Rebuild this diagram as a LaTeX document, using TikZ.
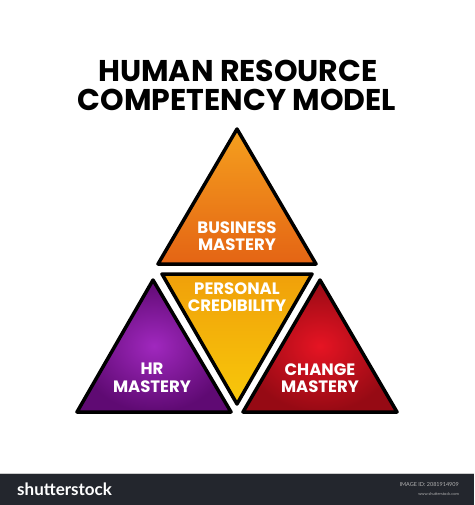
\documentclass[tikz,border=0pt]{standalone}
\usepackage{fontspec}
\newfontfamily\pop{Poppins}
\newfontfamily\lato{Lato}
\definecolor{barc}{RGB}{35,38,45}
\definecolor{purin}{RGB}{160,40,190}
\definecolor{purout}{RGB}{95,10,115}
\definecolor{redin}{RGB}{230,20,35}
\definecolor{redout}{RGB}{150,10,20}
\definecolor{orgtop}{RGB}{245,160,30}
\definecolor{orgbot}{RGB}{228,100,20}
\definecolor{yeltop}{RGB}{240,160,10}
\definecolor{yelbot}{RGB}{248,200,10}
\begin{document}
\begin{tikzpicture}[x=1pt,y=-1pt,
  tri/.style={draw=black,line width=3.5pt,line join=round},
  lbl/.style={text=white,font=\pop\bfseries\fontsize{16.5}{17.5}\selectfont,align=center,inner sep=0pt},
  ttl/.style={text=black,font=\pop\bfseries\fontsize{30}{32}\selectfont,inner sep=0pt}
]
\useasboundingbox (0,0) rectangle (474,505);
\fill[white] (0,0) rectangle (474,505);
% coordinates
\coordinate (tA) at (237,129);
\coordinate (tL) at (158,264);
\coordinate (tR) at (316,264);
\coordinate (mL) at (162,274);
\coordinate (mR) at (312,274);
\coordinate (mB) at (237,404);
\coordinate (lA) at (153,280);
\coordinate (lL) at (77,412);
\coordinate (lR) at (231,412);
\coordinate (rA) at (320,280);
\coordinate (rL) at (243,412);
\coordinate (rR) at (397,412);
% triangles
\shade[top color=orgtop, bottom color=orgbot] (tA) -- (tL) -- (tR) -- cycle;
\draw[tri] (tA) -- (tL) -- (tR) -- cycle;
\shade[top color=yeltop, bottom color=yelbot] (mL) -- (mR) -- (mB) -- cycle;
\draw[tri] (mL) -- (mR) -- (mB) -- cycle;
\shade[inner color=purin, outer color=purout] (lA) -- (lL) -- (lR) -- cycle;
\draw[tri] (lA) -- (lL) -- (lR) -- cycle;
\shade[inner color=redin, outer color=redout] (rA) -- (rL) -- (rR) -- cycle;
\draw[tri] (rA) -- (rL) -- (rR) -- cycle;
% title
\node[ttl] (t1) at (238,71) {HUMAN RESOURCE};
\node[ttl] (t2) at (237,100) {COMPETENCY MODEL};
% labels
\node[lbl] (bus) at (237,236) {BUSINESS\\MASTERY};
\node[lbl] (per) at (237,297) {PERSONAL\\CREDIBILITY};
\node[lbl] (hr) at (152,378) {HR\\MASTERY};
\node[lbl] (chg) at (320,378) {CHANGE\\MASTERY};
% bottom bar
\fill[barc] (0,474) rectangle (474,505);
\draw[gray!40,line width=0.8pt] (0,473.6) -- (474,473.6);
\node[text=white,font=\lato\bfseries\fontsize{17}{18}\selectfont,anchor=west,inner sep=0pt] (ss) at (17,489) {shutterstock};
\node[text=gray!60,font=\lato\fontsize{5.5}{6}\selectfont,anchor=east,inner sep=0pt] (id) at (459,485) {IMAGE ID: 2081914909};
\node[text=gray!60,font=\lato\fontsize{4}{5}\selectfont,anchor=east,inner sep=0pt] (www) at (459,494) {www.shutterstock.com};
\end{tikzpicture}
\end{document}
